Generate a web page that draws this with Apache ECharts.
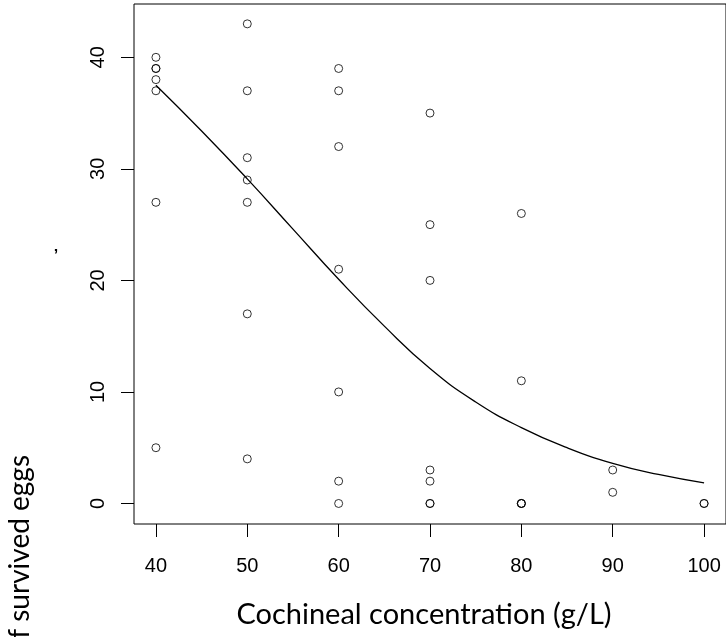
<!DOCTYPE html>
<html>
<head>
<meta charset="utf-8">
<script src="https://cdn.jsdelivr.net/npm/echarts@6/dist/echarts.min.js"></script>
<style>
html,body{margin:0;padding:0;background:#fff;}
#chart{width:726px;height:637px;}
</style>
</head>
<body>
<div id="chart"></div>
<script>
// Observed data: concentration (g/L) and number of survived eggs
const concentration = [40,40,40,40,40,40,40, 50,50,50,50,50,50,50, 60,60,60,60,60,60,60, 70,70,70,70,70,70,70, 80,80,80,80,80, 90,90, 100,100];
const survivedEggs  = [40,39,39,38,37,27,5,  43,37,31,29,27,17,4,   39,37,32,21,10,2,0,   35,25,20,3,2,0,0,     26,11,0,0,0,   3,1,   0,0];
// Fitted curve
const fitX = [40,45,50,55,60,65,70,75,80,85,90,95,100];
const fitY = [37.5,33.4,29.1,24.6,20.1,15.9,12.1,9.1,6.8,5.0,3.6,2.6,1.85];
// Tick labels
const xTicks = [40,50,60,70,80,90,100];
const yTicks = [0,10,20,30,40];
const xTitle = 'Cochineal concentration (g/L)';
const yTitle = 'Number of survived eggs';

const chart = echarts.init(document.getElementById('chart'), null, {renderer:'canvas'});
const pts = concentration.map((c,i)=>[c, survivedEggs[i]]);
const fit = fitX.map((x,i)=>[x, fitY[i]]);

chart.setOption({
  animation:false,
  backgroundColor:'#fff',
  grid:{left:134, top:4, width:592, height:520, show:true, borderColor:'#000', borderWidth:1, containLabel:false},
  xAxis:{
    type:'value', min:37.6, max:102.4,
    splitLine:{show:false},
    axisLine:{show:false, onZero:false},
    axisTick:{show:true, inside:false, length:13, lineStyle:{color:'#000', width:1}, customValues:xTicks},
    axisLabel:{show:true, customValues:xTicks, color:'#000', fontFamily:'Liberation Sans, Arial, sans-serif', fontSize:20, margin:32}
  },
  yAxis:{
    type:'value', min:-1.84, max:44.78,
    splitLine:{show:false},
    axisLine:{show:false, onZero:false},
    axisTick:{show:true, inside:false, length:13, lineStyle:{color:'#000', width:1}, customValues:yTicks},
    axisLabel:{show:true, customValues:yTicks, rotate:90, color:'#000', fontFamily:'Liberation Sans, Arial, sans-serif', fontSize:20, margin:26}
  },
  series:[
    {type:'scatter', data:pts, symbol:'circle', symbolSize:8,
     itemStyle:{color:'rgba(0,0,0,0)', borderColor:'#000', borderWidth:1}, z:3},
    {type:'line', data:fit, smooth:0.5, showSymbol:false, symbol:'none',
     lineStyle:{color:'#000', width:1.3}, z:2}
  ],
  graphic:[
    {type:'text', x:424, y:615,
     style:{text:xTitle, fill:'#000', font:'29px Lato', textAlign:'center', textVerticalAlign:'middle'}},
    {type:'text', x:20, y:455, rotation:Math.PI/2,
     style:{text:yTitle, fill:'#000', font:'28px Lato', textAlign:'right', textVerticalAlign:'middle'}},
    {type:'text', x:56, y:257,
     style:{text:'\u2019', fill:'#000', font:'bold 16px Liberation Sans', textAlign:'center', textVerticalAlign:'middle'}}
  ]
});
</script>
</body>
</html>
